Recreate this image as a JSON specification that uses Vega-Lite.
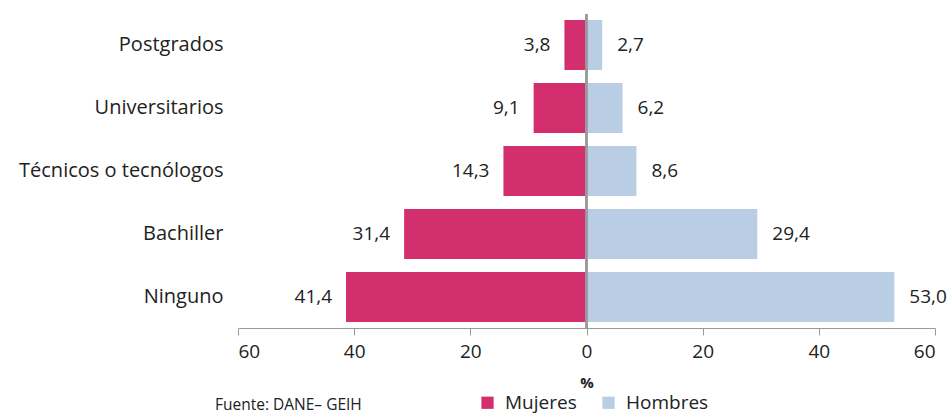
{
  "$schema": "https://vega.github.io/schema/vega-lite/v6.json",
  "width": 697,
  "height": 314,
  "padding": {"left": 0, "top": 13, "right": 15, "bottom": 0},
  "background": "white",
  "config": {
    "font": "Open Sans",
    "view": {"stroke": null},
    "locale": {"number": {"decimal": ",", "thousands": ".", "grouping": [3], "currency": ["$", ""]}}
  },
  "title": {
    "text": "Fuente: DANE– GEIH",
    "orient": "bottom",
    "anchor": "start",
    "frame": "group",
    "dx": -23,
    "dy": -15,
    "offset": 0,
    "fontSize": 15.5,
    "fontWeight": "normal",
    "color": "#222222"
  },
  "data": {
    "values": [
      {"nivel": "Postgrados", "sexo": "Mujeres", "valor": -3.8},
      {"nivel": "Postgrados", "sexo": "Hombres", "valor": 2.7},
      {"nivel": "Universitarios", "sexo": "Mujeres", "valor": -9.1},
      {"nivel": "Universitarios", "sexo": "Hombres", "valor": 6.2},
      {"nivel": "Técnicos o tecnólogos", "sexo": "Mujeres", "valor": -14.3},
      {"nivel": "Técnicos o tecnólogos", "sexo": "Hombres", "valor": 8.6},
      {"nivel": "Bachiller", "sexo": "Mujeres", "valor": -31.4},
      {"nivel": "Bachiller", "sexo": "Hombres", "valor": 29.4},
      {"nivel": "Ninguno", "sexo": "Mujeres", "valor": -41.4},
      {"nivel": "Ninguno", "sexo": "Hombres", "valor": 53.0}
    ]
  },
  "transform": [{"calculate": "abs(datum.valor)", "as": "pct"}],
  "encoding": {
    "y": {
      "field": "nivel",
      "type": "nominal",
      "sort": ["Postgrados", "Universitarios", "Técnicos o tecnólogos", "Bachiller", "Ninguno"],
      "scale": {"paddingInner": 0.206, "paddingOuter": 0.095},
      "axis": {
        "title": null,
        "domain": false,
        "ticks": false,
        "labelPadding": 15,
        "labelFontSize": 20,
        "labelLimit": 300,
        "labelColor": "#222222",
        "minExtent": 238,
        "maxExtent": 238
      }
    }
  },
  "layer": [
    {
      "mark": {"type": "bar"},
      "encoding": {
        "x": {
          "field": "valor",
          "type": "quantitative",
          "scale": {"domain": [-60, 60], "nice": false},
          "axis": {
            "title": "%",
            "titleFontSize": 15,
            "titleFontWeight": "bold",
            "titleColor": "#222222",
            "titlePadding": 14,
            "values": [-60, -40, -20, 0, 20, 40, 60],
            "labelExpr": "abs(datum.value)",
            "labelFontSize": 19,
            "labelColor": "#222222",
            "labelPadding": 7,
            "grid": false,
            "domainColor": "#9a9a9a",
            "tickColor": "#9a9a9a",
            "tickSize": 7
          }
        },
        "color": {
          "field": "sexo",
          "type": "nominal",
          "scale": {"domain": ["Mujeres", "Hombres"], "range": ["#D32F6E", "#B9CDE5"]},
          "legend": {
            "title": null,
            "orient": "none",
            "direction": "horizontal",
            "legendX": 240,
            "legendY": 379,
            "symbolType": "square",
            "symbolSize": 150,
            "symbolStrokeWidth": 0,
            "labelFontSize": 19,
            "labelColor": "#222222",
            "labelOffset": 8,
            "columnPadding": 22
          }
        }
      }
    },
    {
      "mark": {"type": "rule", "color": "#9a9a9a", "strokeWidth": 1.5},
      "encoding": {"x": {"datum": 0}, "y": {"value": 0}, "y2": {"value": 314}}
    },
    {
      "transform": [{"filter": "datum.sexo == 'Mujeres'"}],
      "mark": {"type": "text", "align": "right", "baseline": "middle", "dx": -14, "fontSize": 19, "color": "#222222"},
      "encoding": {
        "x": {"field": "valor", "type": "quantitative"},
        "text": {"field": "pct", "type": "quantitative", "format": ".1f"}
      }
    },
    {
      "transform": [{"filter": "datum.sexo == 'Hombres'"}],
      "mark": {"type": "text", "align": "left", "baseline": "middle", "dx": 15, "fontSize": 19, "color": "#222222"},
      "encoding": {
        "x": {"field": "valor", "type": "quantitative"},
        "text": {"field": "pct", "type": "quantitative", "format": ".1f"}
      }
    }
  ]
}
